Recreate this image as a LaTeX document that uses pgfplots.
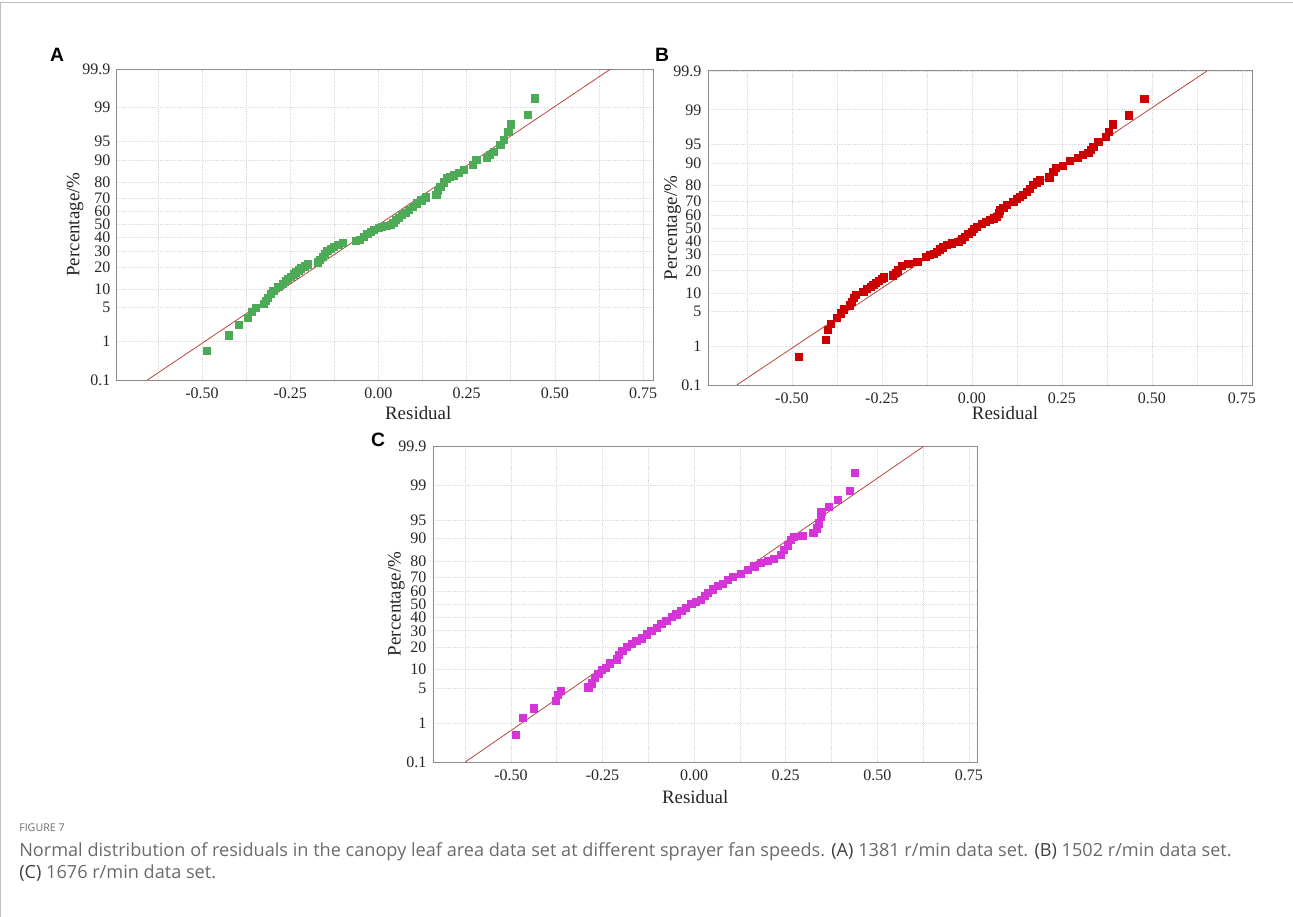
\documentclass[border=0pt]{standalone}
\usepackage{pgfplots}
\pgfplotsset{compat=1.18}
\usepackage{fontspec}
\setmainfont{Liberation Serif}
\newfontfamily\panelfont{Liberation Sans}
\newfontfamily\capfont{Open Sans}

\definecolor{grn}{HTML}{4DAA57}
\definecolor{rd}{HTML}{CC0000}
\definecolor{mag}{HTML}{D535D8}
\definecolor{fitline}{HTML}{B5473F}
\definecolor{axgray}{HTML}{8C8C8C}
\definecolor{capgray}{HTML}{6A6A6A}

\tikzset{axlab/.style={font=\fontsize{14.2}{14}\selectfont, text=black!85}}

% y axis holds the normal quantile of the plotting position
\pgfplotsset{
  probplot/.style={
    scale only axis,
    anchor=north west,
    ymin=-3.09, ymax=3.09,
    ytick={-3.09,-2.326,-1.645,-1.2816,-0.8416,-0.5244,-0.2533,0,0.2533,0.5244,0.8416,1.2816,1.645,2.326,3.09},
    yticklabels={0.1,1,5,10,20,30,40,50,60,70,80,90,95,99,99.9},
    xtick={-0.5,-0.25,0,0.25,0.5,0.75},
    xticklabels={-0.50,-0.25,0.00,0.25,0.50,0.75},
    minor xtick={-0.625,-0.375,-0.125,0.125,0.375,0.625},
    xmajorgrids, xminorgrids, ymajorgrids,
    major grid style={black!14, densely dotted, line width=0.5pt},
    minor grid style={black!14, densely dotted, line width=0.5pt},
    axis line style={draw=axgray, line width=0.75pt},
    major tick length=0pt, minor tick length=0pt,
    tick label style={font=\fontsize{12}{12}\selectfont, text=black!85},
    x tick label style={yshift=-2pt},
    y tick label style={xshift=-1.5pt},
    xlabel={Residual},
    ylabel={Percentage/\%},
  },
  pts/.style={only marks, mark=square*, mark size=2.7pt, color=#1, mark options={fill=#1, draw=#1}},
  fit/.style={no marks, color=fitline, line width=0.6pt},
}

\begin{document}
\begin{tikzpicture}
\path[use as bounding box] (0,0) rectangle (969.75pt,-687.75pt);
\draw[black!25, line width=0.75pt] (0.5pt,-687.75pt) -- (0.5pt,-2pt) -- (969.75pt,-2pt);

% A: 1381 r/min
\begin{axis}[probplot, at={(87.75pt,-51.75pt)}, width=402pt, height=233.25pt,
  xmin=-0.741, xmax=0.778,
  ylabel style={axlab, at={(axis description cs:-0.078,0.5)}, anchor=center},
  xlabel style={axlab, at={(axis description cs:0.562,0)}, anchor=center, yshift=-25pt}]
\addplot[fit] coordinates {(-0.655,-3.09) (0.658,3.09)};
\addplot[pts=grn] coordinates {
(-0.487,-2.51) (-0.424,-2.20) (-0.397,-2.00) (-0.370,-1.86) (-0.358,-1.74)
(-0.348,-1.66) (-0.325,-1.57) (-0.319,-1.52) (-0.313,-1.45) (-0.306,-1.38)
(-0.298,-1.31) (-0.284,-1.24) (-0.272,-1.17) (-0.263,-1.12) (-0.256,-1.08)
(-0.249,-1.04) (-0.241,-0.99) (-0.234,-0.95) (-0.227,-0.91) (-0.220,-0.87)
(-0.210,-0.83) (-0.201,-0.79) (-0.173,-0.75) (-0.166,-0.70) (-0.159,-0.64)
(-0.152,-0.58) (-0.145,-0.52) (-0.136,-0.48) (-0.126,-0.44) (-0.114,-0.40)
(-0.102,-0.37) (-0.065,-0.33) (-0.053,-0.30) (-0.041,-0.24) (-0.032,-0.18)
(-0.022,-0.14) (-0.013,-0.10) (0.000,-0.07) (0.010,-0.04) (0.022,-0.02)
(0.034,-0.01) (0.042,0.04) (0.048,0.09) (0.058,0.14) (0.067,0.19)
(0.076,0.24) (0.086,0.29) (0.097,0.35) (0.109,0.42) (0.121,0.48)
(0.133,0.54) (0.164,0.59) (0.168,0.67) (0.175,0.75) (0.184,0.84)
(0.194,0.92) (0.203,0.95) (0.213,0.98) (0.227,1.03) (0.241,1.08)
(0.267,1.18) (0.277,1.28) (0.307,1.33) (0.316,1.39) (0.326,1.45)
(0.345,1.58) (0.354,1.69) (0.368,1.84) (0.375,1.99) (0.422,2.18)
(0.443,2.51)
};
\end{axis}

% B: 1502 r/min
\begin{axis}[probplot, at={(531pt,-53.25pt)}, width=408pt, height=235.5pt,
  xmin=-0.733, xmax=0.778,
  ylabel style={axlab, at={(axis description cs:-0.065,0.5)}, anchor=center},
  xlabel style={axlab, at={(axis description cs:0.546,0)}, anchor=center, yshift=-21pt}]
\addplot[fit] coordinates {(-0.653,-3.09) (0.653,3.09)};
\addplot[pts=rd] coordinates {
(-0.481,-2.53) (-0.406,-2.20) (-0.401,-2.01) (-0.392,-1.88) (-0.376,-1.77)
(-0.364,-1.68) (-0.356,-1.60) (-0.339,-1.52) (-0.334,-1.45) (-0.328,-1.38)
(-0.322,-1.32) (-0.302,-1.25) (-0.291,-1.20) (-0.282,-1.16) (-0.274,-1.12)
(-0.266,-1.08) (-0.258,-1.04) (-0.251,-1.00) (-0.244,-0.97) (-0.219,-0.93)
(-0.212,-0.88) (-0.205,-0.83) (-0.195,-0.75) (-0.177,-0.71) (-0.152,-0.66)
(-0.128,-0.56) (-0.117,-0.53) (-0.107,-0.50) (-0.098,-0.46) (-0.089,-0.42)
(-0.080,-0.38) (-0.070,-0.33) (-0.056,-0.30) (-0.038,-0.27) (-0.028,-0.22)
(-0.019,-0.17) (-0.010,-0.12) (-0.001,-0.07) (0.006,-0.02) (0.013,0.03)
(0.027,0.09) (0.038,0.12) (0.050,0.16) (0.060,0.19) (0.069,0.22)
(0.074,0.29) (0.078,0.35) (0.087,0.40) (0.096,0.45) (0.115,0.52)
(0.124,0.57) (0.133,0.62) (0.142,0.66) (0.152,0.71) (0.161,0.78)
(0.170,0.85) (0.180,0.90) (0.189,0.94) (0.215,1.00) (0.226,1.11)
(0.233,1.18) (0.252,1.22) (0.272,1.32) (0.294,1.38) (0.309,1.44)
(0.323,1.48) (0.330,1.54) (0.337,1.60) (0.351,1.70) (0.372,1.80)
(0.381,1.90) (0.391,2.04) (0.435,2.22) (0.479,2.55)
};
\end{axis}

% C: 1676 r/min
\begin{axis}[probplot, at={(324.75pt,-334.5pt)}, width=408.75pt, height=237pt,
  xmin=-0.713, xmax=0.775,
  ylabel style={axlab, at={(axis description cs:-0.067,0.5)}, anchor=center},
  xlabel style={axlab, at={(axis description cs:0.481,0)}, anchor=center, yshift=-26.5pt}]
\addplot[fit] coordinates {(-0.625,-3.09) (0.628,3.09)};
\addplot[pts=mag] coordinates {
(-0.486,-2.55) (-0.468,-2.22) (-0.438,-2.04) (-0.377,-1.89) (-0.372,-1.78)
(-0.365,-1.70) (-0.289,-1.63) (-0.280,-1.55) (-0.271,-1.45) (-0.262,-1.36)
(-0.253,-1.29) (-0.242,-1.24) (-0.230,-1.16) (-0.212,-1.08) (-0.206,-0.99)
(-0.196,-0.91) (-0.185,-0.83) (-0.171,-0.78) (-0.158,-0.72) (-0.144,-0.67)
(-0.130,-0.59) (-0.117,-0.52) (-0.103,-0.46) (-0.090,-0.39) (-0.076,-0.33)
(-0.062,-0.25) (-0.049,-0.20) (-0.035,-0.13) (-0.022,-0.07) (-0.008,0.00)
(0.005,0.05) (0.019,0.09) (0.028,0.16) (0.037,0.22) (0.051,0.29)
(0.064,0.35) (0.078,0.40) (0.091,0.47) (0.105,0.53) (0.128,0.59)
(0.146,0.67) (0.164,0.74) (0.182,0.81) (0.200,0.85) (0.218,0.89)
(0.236,0.96) (0.245,1.06) (0.255,1.15) (0.264,1.25) (0.271,1.31)
(0.295,1.34) (0.325,1.40) (0.334,1.48) (0.341,1.58) (0.345,1.71)
(0.347,1.81) (0.368,1.90) (0.392,2.04) (0.425,2.22) (0.438,2.56)
};
\end{axis}

\node[font=\panelfont\bfseries\fontsize{14.5}{15}\selectfont] at (42.75pt,-41.25pt) {A};
\node[font=\panelfont\bfseries\fontsize{14.5}{15}\selectfont] at (496.5pt,-41.25pt) {B};
\node[font=\panelfont\bfseries\fontsize{14.5}{15}\selectfont] at (283.5pt,-330pt) {C};

\node[anchor=west, inner sep=0pt, text=capgray, font=\capfont\fontsize{8}{9}\selectfont] at (14.25pt,-621pt) {FIGURE 7};
\node[anchor=west, inner sep=0pt, text=capgray, font=\capfont\fontsize{13.6}{15}\selectfont] at (14.25pt,-638.5pt)
  {Normal distribution of residuals in the canopy leaf area data set at different sprayer fan speeds. {\color{black!75}(A)} 1381 r/min data set. {\color{black!75}(B)} 1502 r/min data set.};
\node[anchor=west, inner sep=0pt, text=capgray, font=\capfont\fontsize{13.6}{15}\selectfont] at (14.25pt,-654.5pt)
  {{\color{black!75}(C)} 1676 r/min data set.};
\end{tikzpicture}
\end{document}
